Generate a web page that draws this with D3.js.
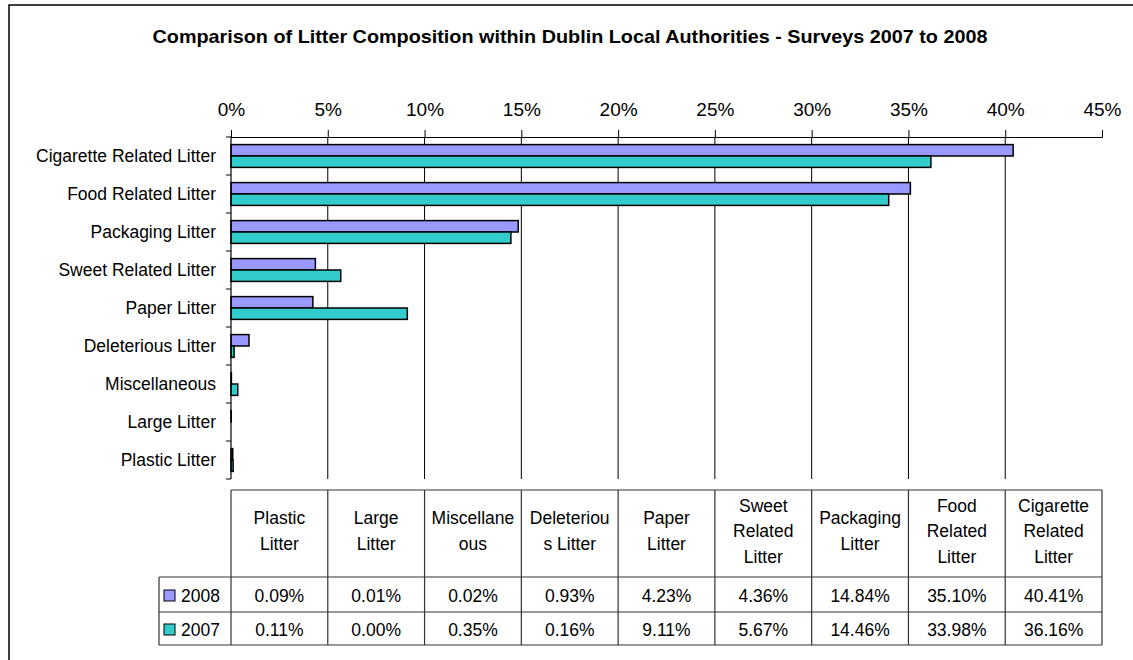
<!doctype html>
<html>
  <head>
    <title>Litter Composition</title>
    <style>
      * { margin: 0; padding: 0; }
      body { background: #fff; font-family: "Liberation Sans", Arial, sans-serif; }
      svg text { fill: #000; }
    </style>
    <script src="https://d3js.org/d3.v7.min.js"></script>
  </head>
  <body>
    <div id="chart"></div>
    <script>
    // data (table order, left to right)
    const categories = ["Plastic Litter", "Large Litter", "Miscellaneous", "Deleterious Litter", "Paper Litter",
                        "Sweet Related Litter", "Packaging Litter", "Food Related Litter", "Cigarette Related Litter"];
    const years = ["2008", "2007"];
    const values2008 = [0.09, 0.01, 0.02, 0.93, 4.23, 4.36, 14.84, 35.10, 40.41];
    const values2007 = [0.11, 0.00, 0.35, 0.16, 9.11, 5.67, 14.46, 33.98, 36.16];
    const xTicks = [0, 5, 10, 15, 20, 25, 30, 35, 40, 45];
    const colors = ["#9999ff", "#33cccc"];
    const title = "Comparison of Litter Composition within Dublin Local Authorities - Surveys 2007 to 2008";

    const series = [values2008, values2007];

    const W = 1133, H = 660;
    const svg = d3.select("#chart").append("svg").attr("width", W).attr("height", H);

    // outer frame (runs off the right and bottom edges)
    svg.append("rect")
        .attr("x", 9).attr("y", 5).attr("width", 1300).attr("height", 800)
        .attr("fill", "none").attr("stroke", "#000").attr("stroke-width", 1.5);

    svg.append("text")
        .attr("x", 570).attr("y", 43)
        .attr("text-anchor", "middle")
        .style("font-weight", "bold").style("font-size", "18.5px")
        .attr("textLength", 835).attr("lengthAdjust", "spacingAndGlyphs")
        .text(title);

    const x = d3.scaleLinear().domain([0, 45]).range([231, 1102]);
    const y = d3.scaleBand().domain(categories.slice().reverse()).range([137, 479])
        .paddingInner(0.4).paddingOuter(0.2);
    const yInner = d3.scaleBand().domain(years).range([0, y.bandwidth()]);

    // gridlines
    svg.append("g").selectAll("line")
        .data(xTicks.filter(d => d > 0 && d < 45))
        .join("line")
        .attr("x1", d => x(d)).attr("x2", d => x(d))
        .attr("y1", 137).attr("y2", 479)
        .attr("stroke", "#000").attr("stroke-width", 1);

    // bars
    years.forEach(function (yr, k) {
        svg.append("g").selectAll("rect")
            .data(categories)
            .join("rect")
            .attr("x", x(0))
            .attr("y", c => y(c) + yInner(yr))
            .attr("width", (c, i) => x(series[k][i]) - x(0))
            .attr("height", yInner.bandwidth())
            .attr("fill", colors[k])
            .attr("stroke", "#000").attr("stroke-width", 1.5);
    });

    // top value axis
    const xAxis = svg.append("g").attr("transform", "translate(0,137)")
        .call(d3.axisTop(x).tickValues(xTicks).tickSize(7).tickSizeOuter(7).tickFormat(d => d + "%"));
    xAxis.select(".domain").attr("stroke", "#000");
    xAxis.selectAll(".tick line").attr("stroke", "#000");
    xAxis.selectAll(".tick text")
        .attr("y", -21)
        .style("font-size", "19px").style("font-family", "'Liberation Sans', Arial, sans-serif");

    // left category axis, ticks between categories
    const step = y.step();
    const bounds = y.domain().map(c => y(c) - (step - y.bandwidth()) / 2);
    bounds.push(bounds[bounds.length - 1] + step);
    svg.append("line")
        .attr("x1", x(0)).attr("x2", x(0)).attr("y1", 137).attr("y2", 479)
        .attr("stroke", "#000").attr("stroke-width", 1.2);
    svg.append("g").selectAll("line")
        .data(bounds)
        .join("line")
        .attr("x1", x(0) - 5).attr("x2", x(0))
        .attr("y1", d => d).attr("y2", d => d)
        .attr("stroke", "#000");
    svg.append("g").selectAll("text")
        .data(categories)
        .join("text")
        .attr("x", 216)
        .attr("y", c => y(c) + y.bandwidth() / 2)
        .attr("dy", "0.35em")
        .attr("text-anchor", "end")
        .style("font-size", "17.5px")
        .text(c => c);

    // data table
    const tTop = 490, tHead = 577, tRow1 = 612, tBot = 645, keyLeft = 159;
    const table = svg.append("g").attr("stroke", "#333").attr("stroke-width", 1.2);
    table.append("line").attr("x1", x(0)).attr("x2", x(45)).attr("y1", tTop).attr("y2", tTop);
    [tHead, tRow1, tBot].forEach(function (yy) {
        table.append("line").attr("x1", keyLeft).attr("x2", x(45)).attr("y1", yy).attr("y2", yy);
    });
    table.append("line").attr("x1", keyLeft).attr("x2", keyLeft).attr("y1", tHead).attr("y2", tBot);
    table.selectAll(".col")
        .data(xTicks)
        .join("line")
        .attr("x1", d => x(d)).attr("x2", d => x(d))
        .attr("y1", tTop).attr("y2", tBot);

    // wrap header text the way the table does (breaks long words too)
    const meas = svg.append("text").style("font-size", "17.5px");
    function textW(s) { meas.text(s); return meas.node().getComputedTextLength(); }
    function wrap(label, maxW) {
        const lines = [];
        let cur = "";
        label.split(" ").forEach(function (word) {
            let w = word;
            let trial = cur ? cur + " " + w : w;
            if (textW(trial) <= maxW) { cur = trial; return; }
            if (cur) { lines.push(cur); cur = ""; }
            while (textW(w) > maxW) {
                let n = w.length;
                while (n > 1 && textW(w.slice(0, n)) > maxW) n--;
                lines.push(w.slice(0, n));
                w = w.slice(n);
            }
            cur = w;
        });
        if (cur) lines.push(cur);
        return lines;
    }
    const lh = 25.5;
    categories.forEach(function (c, i) {
        const cx = (x(xTicks[i]) + x(xTicks[i + 1])) / 2;
        const lines = wrap(c, 85);
        const t = svg.append("text").attr("text-anchor", "middle").style("font-size", "17.5px");
        lines.forEach(function (ln, j) {
            t.append("tspan")
                .attr("x", cx)
                .attr("y", 531 - (lines.length - 1) * lh / 2 + j * lh)
                .attr("dy", "0.35em")
                .text(ln);
        });
    });
    meas.remove();

    // value rows with legend keys
    const rowMid = [(tHead + tRow1) / 2 + 1, (tRow1 + tBot) / 2 + 1];
    years.forEach(function (yr, k) {
        svg.append("rect")
            .attr("x", 164).attr("y", rowMid[k] - 5.5).attr("width", 11).attr("height", 11)
            .attr("fill", colors[k]).attr("stroke", "#000").attr("stroke-width", 1);
        svg.append("text")
            .attr("x", 181).attr("y", rowMid[k]).attr("dy", "0.35em")
            .style("font-size", "17.5px")
            .text(yr);
        svg.append("g").selectAll("text")
            .data(series[k])
            .join("text")
            .attr("x", (d, i) => (x(xTicks[i]) + x(xTicks[i + 1])) / 2)
            .attr("y", rowMid[k]).attr("dy", "0.35em")
            .attr("text-anchor", "middle")
            .style("font-size", "17.5px")
            .text(d => d.toFixed(2) + "%");
    });
    </script>
  </body>
</html>
